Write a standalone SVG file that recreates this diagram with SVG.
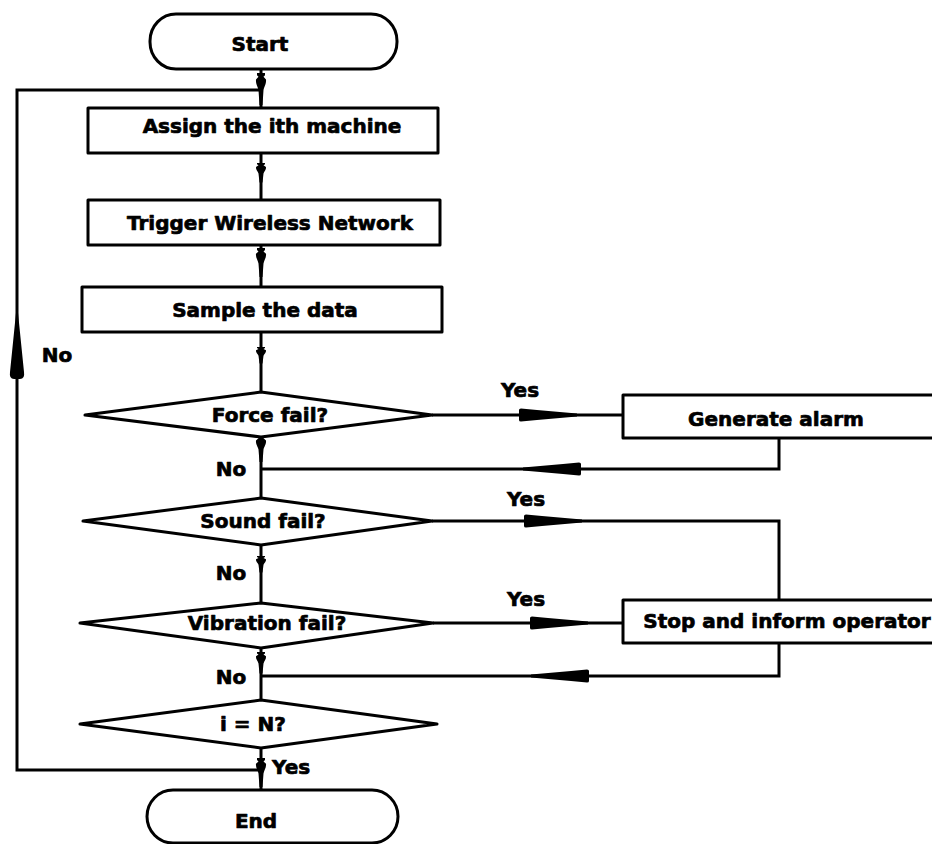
<svg xmlns="http://www.w3.org/2000/svg" xmlns:xlink="http://www.w3.org/1999/xlink" width="932" height="844" viewBox="0 0 932 844">
  <style>
    .shape { fill: #fff; stroke: #000; stroke-width: 3; stroke-linejoin: round; }
    .wire { fill: none; stroke: #000; stroke-width: 3; stroke-linejoin: miter; }
    .head { fill: #000; stroke: none; }
    text { font-family: "DejaVu Sans", Verdana, sans-serif; font-weight: bold; font-size: 20px; fill: #000; stroke: #000; stroke-width: 0.7; stroke-linejoin: round; }
    .c { text-anchor: middle; }
  </style>
  <defs>
    <!-- small bulb-shaped head on vertical flow lines, 30 units long, pointing down -->
    <path id="vhead" class="head" d="M-4,0 H4 V2 L2.5,3.5 L5,6 C5.5,10 3,13 2.5,16 L1.5,30 H-1.5 L-2.5,16 C-3,13 -5.5,10 -5,6 L-2.5,3.5 L-4,2 Z"/>
    <!-- long tapered head on horizontal lines, blunt tail at x=0, pointing right -->
    <path id="hhead" class="head" d="M0,-5 Q0,-6.5 2,-6.5 L18,-5 L58,-1.5 V1.5 L18,5 L2,6.5 Q0,6.5 0,5 Z"/>
  </defs>

  <rect width="932" height="844" fill="#fff"/>

  <g id="connectors">
    <!-- main trunk -->
    <path class="wire" d="M261,69 V108 M261,153 V200 M261,245 V287 M261,332 V392 M261,437 V498 M261,545 V603 M261,648 V700 M261,748 V790"/>
    <!-- loop back from the bottom check -->
    <path class="wire" d="M261,770 H17 V90 H261"/>
    <path class="head" d="M17,303 L24,372 Q25,379 20,379 H14 Q9,379 10,372 Z"/>
    <!-- yes branches -->
    <path class="wire" d="M432,415 H623"/>
    <path class="wire" d="M432,521 H779 V600"/>
    <path class="wire" d="M433,623 H623"/>
    <!-- returns -->
    <path class="wire" d="M779,438 V469 H261"/>
    <path class="wire" d="M779,643 V676 H261"/>
    <!-- heads on the trunk -->
    <use xlink:href="#vhead" transform="translate(261,73) scale(1,1.07)"/>
    <use xlink:href="#vhead" transform="translate(261,163) scale(1,0.65)"/>
    <use xlink:href="#vhead" transform="translate(261,248) scale(1,0.97)"/>
    <use xlink:href="#vhead" transform="translate(261,347) scale(1,0.55)"/>
    <use xlink:href="#vhead" transform="translate(261,435) scale(1,0.9)"/>
    <use xlink:href="#vhead" transform="translate(261,556) scale(1,0.55)"/>
    <use xlink:href="#vhead" transform="translate(261,652) scale(1,0.72)"/>
    <use xlink:href="#vhead" transform="translate(261,758) scale(1,0.97)"/>
    <!-- heads on the side branches -->
    <use xlink:href="#hhead" transform="translate(519,415)"/>
    <use xlink:href="#hhead" transform="translate(524,521)"/>
    <use xlink:href="#hhead" transform="translate(530,623)"/>
    <use xlink:href="#hhead" transform="translate(581,469) scale(-1,1)"/>
    <use xlink:href="#hhead" transform="translate(589,676) scale(-1,1)"/>
    <!-- branch labels -->
    <text class="c" x="57" y="362">No</text>
    <text class="c" x="520" y="397">Yes</text>
    <text class="c" x="231" y="476">No</text>
    <text class="c" x="526" y="506">Yes</text>
    <text class="c" x="231" y="580">No</text>
    <text class="c" x="526" y="606">Yes</text>
    <text class="c" x="231" y="684">No</text>
    <text x="272" y="774">Yes</text>
  </g>

  <g id="start">
    <rect class="shape" x="150" y="14" width="247" height="55" rx="26" ry="27"/>
    <text class="c" x="260" y="51">Start</text>
  </g>

  <g id="assign">
    <rect class="shape" x="88" y="108" width="350" height="45"/>
    <text class="c" x="272" y="133">Assign the ith machine</text>
  </g>

  <g id="trigger">
    <rect class="shape" x="88" y="200" width="352" height="45"/>
    <text class="c" x="270" y="230">Trigger Wireless Network</text>
  </g>

  <g id="sample">
    <rect class="shape" x="82" y="287" width="360" height="45"/>
    <text class="c" x="265" y="317">Sample the data</text>
  </g>

  <g id="force">
    <polygon class="shape" points="85,415 261,392 432,415 261,437"/>
    <text class="c" x="270" y="422">Force fail?</text>
  </g>

  <g id="sound">
    <polygon class="shape" points="83,521 261,498 432,521 261,545"/>
    <text class="c" x="263" y="528">Sound fail?</text>
  </g>

  <g id="vibration">
    <polygon class="shape" points="80,623 261,603 433,623 261,648"/>
    <text class="c" x="267" y="630">Vibration fail?</text>
  </g>

  <g id="count">
    <polygon class="shape" points="80,724 261,700 437,724 261,748"/>
    <text class="c" x="253" y="731">i = N?</text>
  </g>

  <g id="end">
    <rect class="shape" x="147" y="790" width="251" height="53" rx="26" ry="27"/>
    <text class="c" x="256" y="828">End</text>
  </g>

  <g id="alarm">
    <rect class="shape" x="623" y="395" width="320" height="43"/>
    <text class="c" x="776" y="426">Generate alarm</text>
  </g>

  <g id="stop">
    <rect class="shape" x="623" y="600" width="320" height="43"/>
    <text class="c" x="787" y="628">Stop and inform operator</text>
  </g>
</svg>
